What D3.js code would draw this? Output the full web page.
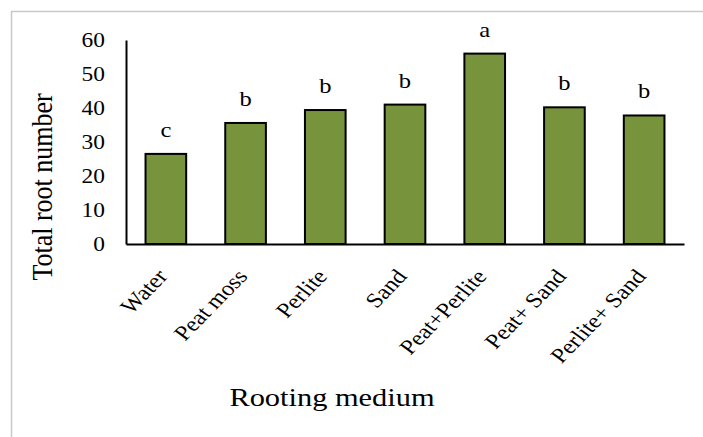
<!DOCTYPE html>
<html><head><meta charset="utf-8">
<script src="https://cdn.jsdelivr.net/npm/d3@7"></script>
<style>html,body{margin:0;padding:0;background:#fff;}svg{display:block;}</style>
</head><body>
<svg id="c" width="703" height="437"></svg>
<script>
const categories = ["Water","Peat moss","Perlite","Sand","Peat+Perlite","Peat+ Sand","Perlite+ Sand"];
const values = [26.5, 35.6, 39.4, 41.0, 56.0, 40.2, 37.8];
const letters = ["c","b","b","b","a","b","b"];
const yTicks = [0,10,20,30,40,50,60];

const SX = 1.17; // reference text is horizontally stretched
const svg = d3.select("#c");
const font = "'Liberation Serif','Times New Roman',serif";
svg.append("rect").attr("x",11.5).attr("y",11.5).attr("width",720).attr("height",450)
  .attr("fill","#fff").attr("stroke","#c8c8c8").attr("stroke-width",1.5);

const x = d3.scaleBand().domain(categories).range([126,684]).paddingInner(0.49).paddingOuter(0.245);
const y = d3.scaleLinear().domain([0,60]).range([244,40]);

const g = svg.append("g");
g.selectAll("rect.bar").data(values).enter().append("rect")
  .attr("x",(d,i)=>x(categories[i])).attr("width",x.bandwidth())
  .attr("y",d=>y(d)).attr("height",d=>y(0)-y(d))
  .attr("fill","#77933c").attr("stroke","#000").attr("stroke-width",2);

g.selectAll("text.lt").data(values).enter().append("text")
  .attr("transform",(d,i)=>`translate(${x(categories[i])+x.bandwidth()/2},${y(d)-17}) scale(${SX},1)`)
  .attr("text-anchor","middle").attr("font-family",font).attr("font-size",21)
  .text((d,i)=>letters[i]);

const ya = d3.axisLeft(y).tickValues(yTicks).tickSize(0).tickPadding(0);
const yg = svg.append("g").attr("transform","translate(126,0)").call(ya);
yg.select(".domain").attr("stroke","#000").attr("stroke-width",2);
yg.selectAll("text").attr("font-family",font).attr("font-size",20).attr("fill","#000")
  .attr("x",0).attr("transform",`translate(-21,0) scale(${SX},1)`);

const xa = d3.axisBottom(x).tickSize(0).tickPadding(0);
const xg = svg.append("g").attr("transform","translate(0,244)").call(xa);
xg.select(".domain").attr("stroke","#000").attr("stroke-width",2);
xg.selectAll("text").attr("font-family",font).attr("font-size",21).attr("fill","#000")
  .attr("text-anchor","end").attr("dy",null).attr("y",0)
  .attr("transform",`translate(3,33) scale(${SX},1) rotate(-50)`);

svg.append("text").attr("transform",`translate(332,406) scale(${SX},1)`).attr("text-anchor","middle")
  .attr("font-family",font).attr("font-size",26).text("Rooting medium");
svg.append("text").attr("transform",`translate(52,187) scale(${SX},1) rotate(-90)`).attr("text-anchor","middle")
  .attr("font-family",font).attr("font-size",26).text("Total root number");
</script>
</body></html>
